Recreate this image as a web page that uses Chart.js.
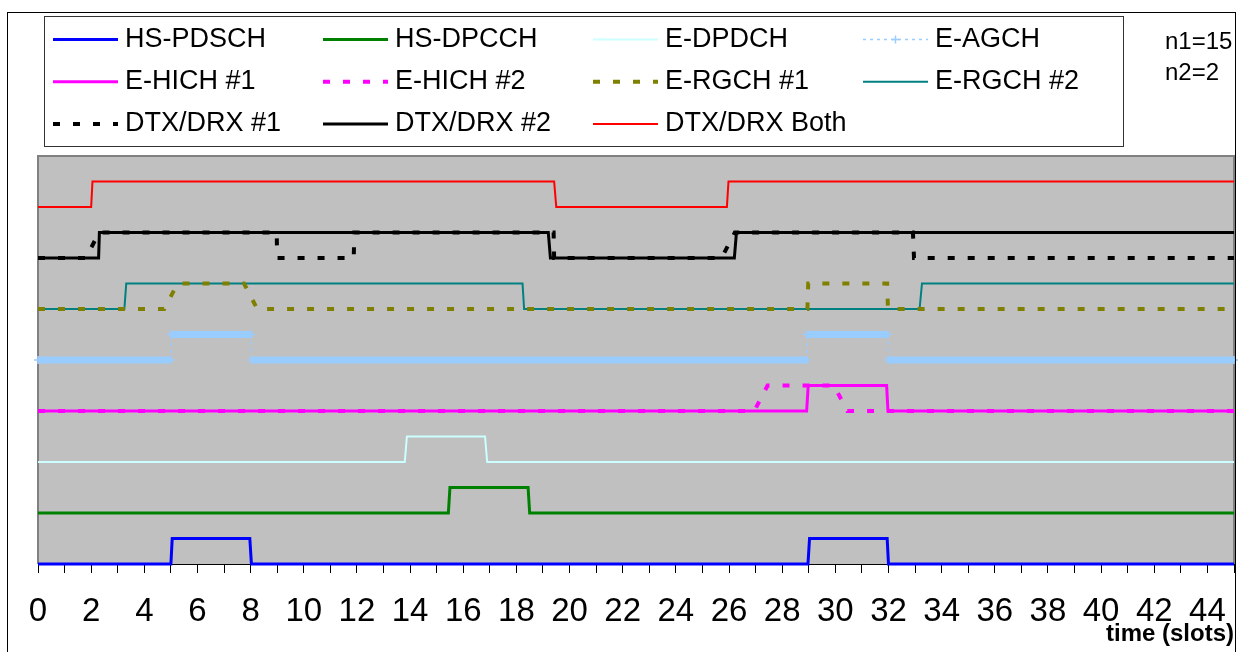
<!DOCTYPE html>
<html>
<head>
<meta charset="utf-8">
<script src="https://cdn.jsdelivr.net/npm/chart.js@4.4.1/dist/chart.umd.min.js"></script>
<style>
  html,body{margin:0;padding:0;background:#fff;}
  #c{display:block;}
</style>
</head>
<body>
<canvas id="c" width="1243" height="652"></canvas>
<script>
// ===== data: [slot, level] pairs =====
const seriesNames = ['HS-PDSCH','HS-DPCCH','E-DPDCH','E-AGCH','E-HICH #1','E-HICH #2',
                     'E-RGCH #1','E-RGCH #2','DTX/DRX #1','DTX/DRX #2','DTX/DRX Both'];

const hsPdsch = [[0,0],[5,0],[5.05,0.5],[7.97,0.5],[8.03,0],[28.97,0],[29.03,0.5],[31.95,0.5],[32,0],[45,0]];
const hsDpcch = [[0,1],[15.44,1],[15.5,1.5],[18.44,1.5],[18.5,1],[45,1]];
const eDpdch  = [[0,2],[13.8,2],[13.88,2.5],[16.82,2.5],[16.9,2],[45,2]];
const eAgch   = [[0,4],[5,4],[5,4.5],[8.03,4.5],[8.03,4],[28.93,4],[28.93,4.5],[31.98,4.5],[31.98,4],[45,4]];
const eHich1  = [[0,3],[28.92,3],[28.98,3.5],[31.93,3.5],[31.98,3],[45,3]];
const eHich2  = [[0,3],[26.95,3],[27.45,3.5],[29.95,3.5],[30.45,3],[45,3]];
const eRgch1  = [[0,5],[4.75,5],[5.25,5.5],[7.75,5.5],[8.25,5],[28.95,5],[28.98,5.5],[31.95,5.5],[31.98,5],[45,5]];
const eRgch2  = [[0,5],[3.25,5],[3.32,5.5],[18.23,5.5],[18.29,5],[33.17,5],[33.26,5.5],[45,5.5]];
const dtxDrx1 = [[0,6],[1.8,6],[2.3,6.5],[8.98,6.5],[9,6],[11.88,6],[11.9,6.5],[19.4,6.5],[19.42,6],
                 [25.72,6],[26.22,6.5],[32.92,6.5],[32.96,6],[45,6]];
const dtxDrx2 = [[0,6],[2.28,6],[2.31,6.5],[19.2,6.5],[19.28,6],[26.2,6],[26.28,6.5],[45,6.5]];
const dtxBoth = [[0,7],[2,7],[2.05,7.5],[19.42,7.5],[19.5,7],[25.92,7],[25.98,7.5],[45,7.5]];

const seriesData = [hsPdsch, hsDpcch, eDpdch, eAgch, eHich1, eHich2, eRgch1, eRgch2, dtxDrx1, dtxDrx2, dtxBoth];

const xTickLabels = [0,2,4,6,8,10,12,14,16,18,20,22,24,26,28,30,32,34,36,38,40,42,44];
const notes = ['n1=15', 'n2=2'];
const xTitle = 'time (slots)';

// ===== styles =====
const styles = [
  {color:'#0000FF', width:3},
  {color:'#008000', width:3},
  {color:'#CCFFFF', width:2},
  {color:'#99CCFF', width:1.5, dash:[3,4], marker:true},
  {color:'#FF00FF', width:3},
  {color:'#FF00FF', width:4, dash:[7,13]},
  {color:'#808000', width:4, dash:[7,13]},
  {color:'#008080', width:2},
  {color:'#000000', width:4, dash:[7,13]},
  {color:'#000000', width:3},
  {color:'#FF0000', width:2}
];

const FONT = '"Liberation Sans", Arial, sans-serif';
Chart.defaults.font.family = FONT;

const datasets = seriesNames.map((name, i) => {
  const s = styles[i];
  const ds = {
    label: name,
    data: seriesData[i].map(p => ({x:p[0], y:p[1]})),
    borderColor: s.color,
    borderWidth: s.width,
    borderDash: s.dash || [],
    pointRadius: 0,
    clip: false,
    tension: 0
  };
  if (s.marker) {
    // E-AGCH: dense '+' markers look like a thick band on the flat parts
    ds.pointStyle = 'cross';
    ds.pointRadius = 4;
    ds.pointBorderWidth = 1.5;
    ds.pointBorderColor = s.color;
    ds.segment = {
      borderWidth: c => c.p0.parsed.y === c.p1.parsed.y ? 7 : s.width,
      borderDash: c => c.p0.parsed.y === c.p1.parsed.y ? [] : s.dash
    };
  }
  return ds;
});

// ===== background, frame, legend, notes =====
const frame = {
  id: 'frame',
  beforeDraw(chart){
    const {ctx, chartArea:a} = chart;
    ctx.save();
    ctx.fillStyle = '#fff';
    ctx.fillRect(0, 0, chart.width, chart.height);
    ctx.fillStyle = '#C0C0C0';
    ctx.fillRect(a.left, a.top, a.right - a.left, a.bottom - a.top);
    ctx.strokeStyle = '#808080';
    ctx.lineWidth = 2;
    ctx.beginPath();
    ctx.moveTo(a.left, a.bottom); ctx.lineTo(a.left, a.top);
    ctx.lineTo(a.right, a.top); ctx.lineTo(a.right, a.bottom);
    ctx.stroke();
    ctx.restore();
  },
  afterDraw(chart){
    const ctx = chart.ctx;
    ctx.save();
    // outer chart border
    ctx.strokeStyle = '#000'; ctx.lineWidth = 1;
    ctx.strokeRect(7.5, 12.5, 1228, 700);
    // legend box
    ctx.strokeStyle = '#333';
    ctx.strokeRect(44.5, 16.5, 1079, 130);
    chart.data.datasets.forEach((ds, i) => {
      const col = i % 4, row = Math.floor(i / 4);
      const x0 = 53 + col * 270, y = 39.5 + row * 42.2;
      ctx.save();
      ctx.strokeStyle = ds.borderColor;
      ctx.lineWidth = ds.borderWidth;
      ctx.setLineDash(ds.borderDash || []);
      ctx.beginPath(); ctx.moveTo(x0, y); ctx.lineTo(x0 + 65, y); ctx.stroke();
      if (ds.pointStyle === 'cross') {
        ctx.setLineDash([]);
        ctx.lineWidth = 1.5;
        ctx.beginPath();
        ctx.moveTo(x0 + 32.5 - 4, y); ctx.lineTo(x0 + 32.5 + 4, y);
        ctx.moveTo(x0 + 32.5, y - 4); ctx.lineTo(x0 + 32.5, y + 4);
        ctx.stroke();
      }
      ctx.fillStyle = '#000';
      ctx.font = '27px ' + FONT;
      ctx.textBaseline = 'middle';
      ctx.fillText(ds.label, x0 + 72, y);
      ctx.restore();
    });
    // notes top right
    ctx.fillStyle = '#000';
    ctx.font = '24px ' + FONT;
    ctx.textBaseline = 'alphabetic';
    notes.forEach((t, i) => ctx.fillText(t, 1165, 49 + i * 31));
    ctx.restore();
  }
};

new Chart(document.getElementById('c'), {
  type: 'line',
  data: { datasets },
  options: {
    responsive: false,
    animation: false,
    layout: { padding: { left: 38, right: 9, top: 156, bottom: 0 } },
    plugins: { legend: { display: false }, tooltip: { enabled: false } },
    scales: {
      x: {
        type: 'linear', min: 0, max: 45,
        afterFit(scale){
          scale.height = 88;
          // keep the plot edges fixed; label overhang is covered by layout padding
          scale.paddingLeft = 0;
          scale.paddingRight = 0;
        },
        grid: { drawOnChartArea: false, drawTicks: true, tickLength: 9, color: '#000', lineWidth: 1 },
        border: { display: true, color: '#000', width: 1 },
        ticks: {
          stepSize: 1, autoSkip: false, maxRotation: 0, minRotation: 0,
          padding: 19, color: '#000', font: { size: 33 },
          callback: v => xTickLabels.includes(v) ? String(v) : ''
        },
        title: {
          display: true, text: xTitle, align: 'end', color: '#000',
          font: { size: 24, weight: 'bold' }, padding: { top: 0, bottom: 3 }
        }
      },
      y: { type: 'linear', min: 0, max: 8, display: false }
    }
  },
  plugins: [frame]
});
</script>
</body>
</html>
